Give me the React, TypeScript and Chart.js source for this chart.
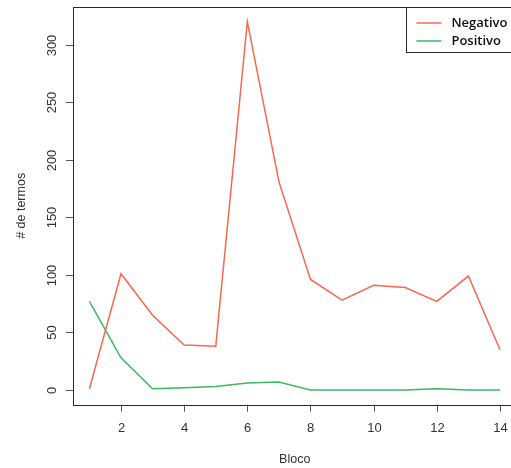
import React, { useEffect, useRef } from 'react';
import { Chart, registerables } from 'chart.js';

Chart.register(...registerables);

// Blocks along the x axis and term counts per block
const blocos = [1, 2, 3, 4, 5, 6, 7, 8, 9, 10, 11, 12, 13, 14];
const negativo = [1, 101, 65, 39, 38, 320, 181, 96, 78, 91, 89, 77, 99, 35];
const positivo = [77, 28, 1, 2, 3, 6, 7, 0, 0, 0, 0, 1, 0, 0];

const xTicks = [2, 4, 6, 8, 10, 12, 14];
const yTicks = [0, 50, 100, 150, 200, 250, 300];

const seriesNames = ['Negativo', 'Positivo'];
const seriesColors = ['#F8674F', '#3DB862'];

const xTitle = 'Bloco';
const yTitle = '# de termos';

// R-style 4% padding around the data range
const pad = (lo: number, hi: number) => {
  const d = (hi - lo) * 0.04;
  return [lo - d, hi + d];
};

const CANVAS_W = 530;
const CANVAS_H = 468;

const baseAxesPlugin = {
  id: 'baseAxes',
  beforeDraw(chart: any) {
    const { ctx } = chart;
    ctx.save();
    ctx.fillStyle = '#ffffff';
    ctx.fillRect(0, 0, chart.width, chart.height);
    ctx.restore();
  },
  afterDraw(chart: any) {
    const { ctx, chartArea } = chart;
    const { left, right, top, bottom } = chartArea;
    const xs = chart.scales.x;
    const ys = chart.scales.y;
    ctx.save();

    // plot box
    ctx.strokeStyle = '#2a2a2a';
    ctx.lineWidth = 1;
    ctx.strokeRect(Math.round(left) + 0.5, Math.round(top) + 0.5, right - left, Math.round(bottom) - Math.round(top));

    // y axis ticks and labels
    ctx.strokeStyle = '#555';
    ctx.fillStyle = '#333';
    ctx.font = '13px "Liberation Sans", Arial, sans-serif';
    for (const v of yTicks) {
      const py = Math.round(ys.getPixelForValue(v)) + 0.5;
      ctx.beginPath();
      ctx.moveTo(left, py);
      ctx.lineTo(left - 7, py);
      ctx.stroke();
      ctx.save();
      ctx.translate(left - 21, py);
      ctx.rotate(-Math.PI / 2);
      ctx.textAlign = 'center';
      ctx.textBaseline = 'middle';
      ctx.fillText(String(v), 0, 0);
      ctx.restore();
    }

    // x axis ticks and labels
    for (const v of xTicks) {
      const px = Math.round(xs.getPixelForValue(v)) + 0.5;
      ctx.beginPath();
      ctx.moveTo(px, bottom);
      ctx.lineTo(px, bottom + 7);
      ctx.stroke();
      ctx.textAlign = 'center';
      ctx.textBaseline = 'middle';
      ctx.fillText(String(v), px, bottom + 24);
    }

    // axis titles
    ctx.font = '12.5px "Liberation Sans", Arial, sans-serif';
    ctx.textAlign = 'center';
    ctx.textBaseline = 'middle';
    ctx.fillText(xTitle, (left + right) / 2, bottom + 55);
    ctx.save();
    ctx.translate(22, (top + bottom) / 2);
    ctx.rotate(-Math.PI / 2);
    ctx.fillText(yTitle, 0, 0);
    ctx.restore();

    // legend, anchored to the top-right corner of the plot
    const lx = right - 110;
    const lb = top + 45;
    ctx.fillStyle = '#ffffff';
    ctx.fillRect(lx, top, right - lx, lb - top);
    ctx.strokeStyle = '#2a2a2a';
    ctx.strokeRect(Math.round(lx) + 0.5, Math.round(top) + 0.5, right - lx, lb - top);
    seriesNames.forEach((name, i) => {
      const y = top + 16 + i * 18;
      ctx.strokeStyle = seriesColors[i];
      ctx.lineWidth = 1.5;
      ctx.beginPath();
      ctx.moveTo(lx + 10, y);
      ctx.lineTo(lx + 35, y);
      ctx.stroke();
      ctx.fillStyle = '#111';
      ctx.font = '600 13px "Open Sans", sans-serif';
      ctx.textAlign = 'left';
      ctx.textBaseline = 'middle';
      ctx.fillText(name, lx + 45, y);
    });

    ctx.restore();
  },
};

export default function App() {
  const canvasRef = useRef<HTMLCanvasElement | null>(null);

  useEffect(() => {
    const canvas = canvasRef.current;
    if (!canvas) return;
    const [xMin, xMax] = pad(Math.min(...blocos), Math.max(...blocos));
    const allY = [...negativo, ...positivo];
    const [yMin, yMax] = pad(Math.min(...allY), Math.max(...allY));

    const chart = new Chart(canvas, {
      type: 'line',
      data: {
        datasets: [
          {
            label: seriesNames[0],
            data: blocos.map((b, i) => ({ x: b, y: negativo[i] })),
            borderColor: seriesColors[0],
            borderWidth: 1.5,
            pointRadius: 0,
            tension: 0,
            fill: false,
          },
          {
            label: seriesNames[1],
            data: blocos.map((b, i) => ({ x: b, y: positivo[i] })),
            borderColor: seriesColors[1],
            borderWidth: 1.5,
            pointRadius: 0,
            tension: 0,
            fill: false,
          },
        ],
      },
      options: {
        responsive: false,
        animation: false,
        devicePixelRatio: 1,
        layout: { padding: { left: 73, top: 7, right: CANVAS_W - 516.4, bottom: CANVAS_H - 404.7 } },
        plugins: { legend: { display: false }, tooltip: { enabled: false } },
        scales: {
          x: { type: 'linear', min: xMin, max: xMax, display: false },
          y: { type: 'linear', min: yMin, max: yMax, display: false },
        },
      },
      plugins: [baseAxesPlugin],
    });
    return () => chart.destroy();
  }, []);

  return (
    <div style={{ position: 'fixed', left: 0, top: 0, width: 511, height: 468, overflow: 'hidden', background: '#fff' }}>
      <canvas ref={canvasRef} width={CANVAS_W} height={CANVAS_H} style={{ display: 'block', width: CANVAS_W, height: CANVAS_H }} />
    </div>
  );
}
